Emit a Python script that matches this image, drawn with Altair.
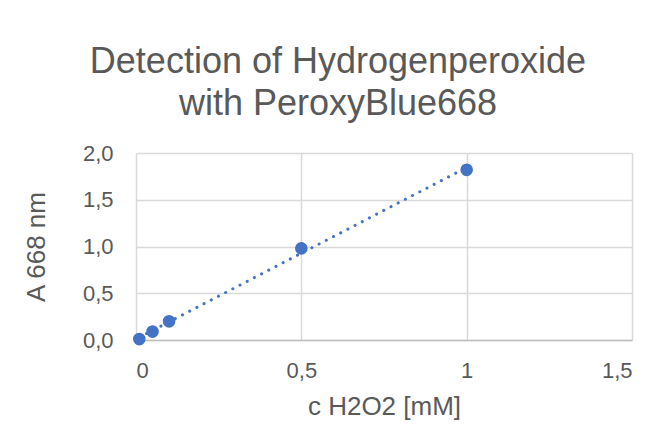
import altair as alt
import pandas as pd

conc = [0.01, 0.05, 0.1, 0.5, 1.0]
absorb = [0.01, 0.09, 0.2, 0.98, 1.82]
x_ticks = [0, 0.5, 1, 1.5]
y_ticks = [0, 0.5, 1.0, 1.5, 2.0]

df = pd.DataFrame({"c": conc, "A": absorb})

FONT = "Liberation Sans"
GREY = "#595959"
BLUE = "#4472C4"

x = alt.X("c:Q",
          scale=alt.Scale(domain=[0, 1.5], nice=False, zero=False),
          axis=alt.Axis(title="c H2O2 [mM]", values=x_ticks, grid=True,
                        labelExpr="replace(toString(datum.value), '.', ',')",
                        ticks=False, tickSize=0, labelPadding=20,
                        titlePadding=12, domainColor="#bfbfbf",
                        domainWidth=1.5))
y = alt.Y("A:Q",
          scale=alt.Scale(domain=[0, 2], nice=False),
          axis=alt.Axis(title="A 668 nm", values=y_ticks, grid=True,
                        labelExpr="replace(format(datum.value, '.1f'), '.', ',')",
                        ticks=False, tickSize=0, labelPadding=23,
                        titlePadding=33, domain=False))

base = alt.Chart(df)

trend = base.transform_regression("c", "A").mark_line(
    color=BLUE, strokeWidth=3, strokeDash=[0.1, 8], strokeCap="round"
).encode(x=x, y=y)

points = base.mark_circle(size=160, color=BLUE, opacity=1).encode(x=x, y=y)

chart = alt.layer(trend, points).properties(
    width=496,
    height=187,
    title=alt.TitleParams(
        text=["Detection of Hydrogenperoxide", "with PeroxyBlue668"],
        fontSize=36, font=FONT, color=GREY, fontWeight="normal",
        lineHeight=42, anchor="middle", dx=-46, dy=47, offset=38,
        baseline="alphabetic"),
    autosize=alt.AutoSizeParams(type="none"),
    padding={"left": 128, "top": 145, "right": 30, "bottom": 90},
).configure_view(stroke=None).configure_axis(
    labelFont=FONT, labelFontSize=22, labelColor=GREY,
    titleFont=FONT, titleFontSize=26, titleColor=GREY, titleFontWeight="normal",
    gridColor="#d9d9d9", gridWidth=1.5,
)

chart.save("out.html", embed_options={"renderer": "svg", "actions": False})
